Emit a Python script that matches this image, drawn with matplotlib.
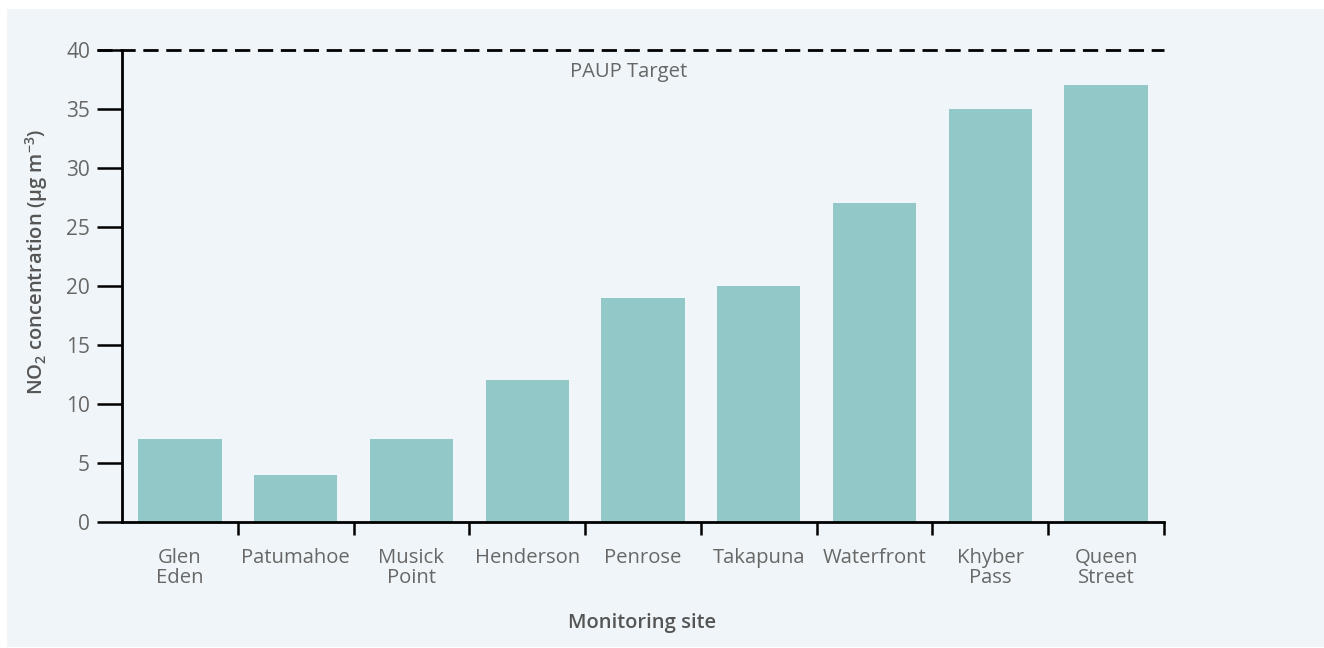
import matplotlib
matplotlib.use("Agg")
import matplotlib.pyplot as plt
from matplotlib.patches import Rectangle
from matplotlib.ticker import FixedLocator

plt.rcParams['font.family'] = ['Open Sans', 'DejaVu Sans']
plt.rcParams['mathtext.default'] = 'regular'
plt.rcParams['lines.scale_dashes'] = False

sites = ["Glen\nEden", "Patumahoe", "Musick\nPoint", "Henderson", "Penrose",
         "Takapuna", "Waterfront", "Khyber\nPass", "Queen\nStreet"]
no2 = [7, 4, 7, 12, 19, 20, 27, 35, 37]
target = 40
target_label = "PAUP Target"
yticks = [0, 5, 10, 15, 20, 25, 30, 35, 40]

panel = "#eff5f8"
bar_color = "#93c8c9"
text_color = "#676767"

W, H = 1324, 648
fig = plt.figure(figsize=(W / 100, H / 100), dpi=100)
fig.patch.set_facecolor("white")
fig.add_artist(Rectangle((7 / W, 1 / H), 1 - 7 / W, 1 - 10 / H, transform=fig.transFigure,
                         facecolor=panel, edgecolor="none", zorder=0))

ax = fig.add_axes([122 / W, 1 - 522 / H, (1164 - 122) / W, (522 - 50) / H])
ax.set_facecolor("none")

x = list(range(len(sites)))
ax.bar(x, no2, width=0.72, color=bar_color, zorder=2)

ax.set_xlim(-0.5, len(sites) - 0.5)
ax.set_ylim(0, 40)

for s in ["top", "right"]:
    ax.spines[s].set_visible(False)
for s in ["left", "bottom"]:
    ax.spines[s].set_linewidth(2.0)
    ax.spines[s].set_color("black")
    ax.spines[s].set_zorder(3)

ax.set_yticks(yticks)
ax.set_yticklabels([str(v) for v in yticks])
ax.tick_params(axis="y", direction="out", length=18, width=1.8, pad=5,
               labelsize=15, labelcolor=text_color, color="black")

ax.set_xticks(x)
ax.set_xticklabels(sites, linespacing=1.02)
ax.tick_params(axis="x", which="major", length=0, pad=18.5, labelsize=14.6,
               labelcolor=text_color)
ax.xaxis.set_minor_locator(FixedLocator([i + 0.5 for i in x]))
ax.tick_params(axis="x", which="minor", direction="out", length=9, width=1.8,
               color="black")
for lbl in ax.get_xticklabels():
    lbl.set_verticalalignment("top")

# target line
ax.plot([-25 / 1042, 1], [target, target], transform=ax.get_yaxis_transform(),
        color="black", lw=2.0, dashes=(11, 5.5), clip_on=False, zorder=4)
ax.text(3.88, target - 1.9, target_label, ha="center", va="center",
        fontsize=14.6, color=text_color)

fig.text(642 / W, 1 - 623 / H, "Monitoring site", ha="center", va="center",
         fontsize=14.5, color="#555555", fontweight="semibold")
fig.text(37 / W, 1 - 262 / H, r"NO$_2$ concentration (μg m$^{-3}$)", ha="center",
         va="center", rotation=90, fontsize=14.5, color="#555555",
         fontweight="semibold")

fig.savefig("out.png", dpi=100, facecolor=fig.get_facecolor())
